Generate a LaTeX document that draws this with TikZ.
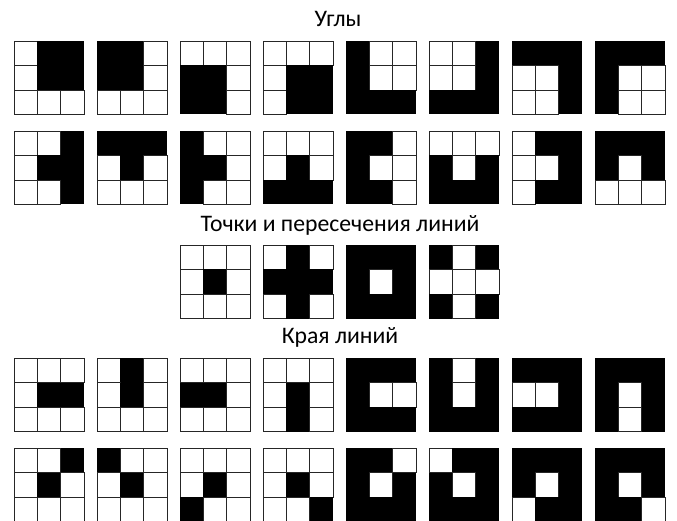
\documentclass[tikz,border=0pt]{standalone}
\usepackage{fontspec}
\setmainfont{Carlito}
\usepackage{tikz}
\usetikzlibrary{positioning}

% one 3x3 mask: #1 left, #2 top, #3 list of nine bits (row by row)
\newcommand{\mask}[3]{%
  \foreach \v [count=\i from 0] in #3 {
    \pgfmathtruncatemacro\cx{mod(\i,3)}
    \pgfmathtruncatemacro\cy{div(\i,3)}
    \ifnum\v=1
      \fill[cellon] ({#1+\cx*23.33},{#2+\cy*24.5}) rectangle +(23.33,24.5);
    \else
      \draw[celloff] ({#1+\cx*23.33},{#2+\cy*24.5}) rectangle +(23.33,24.5);
    \fi
  }%
}

\begin{document}
\begin{tikzpicture}[
        x=1pt, y=-1pt,
        cellon/.style={fill=black},
        celloff/.style={fill=white, draw=black!85, line width=0.9pt},
        heading/.style={font=\fontsize{23.7}{28}\selectfont, inner sep=0pt}
    ]
    \useasboundingbox (0,0) rectangle (677,521);

    \node[heading] (corners) at (338,19) {Углы};
    \node[heading] (dots) at (340,225) {Точки и пересечения линий};
    \node[heading] (ends) at (340,337) {Края линий};

    % corners
    \foreach \m [count=\k from 0] in {
        {0,1,1,0,1,1,0,0,0}, {1,1,0,1,1,0,0,0,0}, {0,0,0,1,1,0,1,1,0}, {0,0,0,0,1,1,0,1,1},
        {1,0,0,1,0,0,1,1,1}, {0,0,1,0,0,1,1,1,1}, {1,1,1,0,0,1,0,0,1}, {1,1,1,1,0,0,1,0,0}}
        {\mask{14+83*\k}{41}{\m}}
    \foreach \m [count=\k from 0] in {
        {0,0,1,0,1,1,0,0,1}, {1,1,1,0,1,0,0,0,0}, {1,0,0,1,1,0,1,0,0}, {0,0,0,0,1,0,1,1,1},
        {1,1,0,1,0,0,1,1,0}, {0,0,0,1,0,1,1,1,1}, {0,1,1,0,0,1,0,1,1}, {1,1,1,1,0,1,0,0,0}}
        {\mask{14+83*\k}{131}{\m}}

    % dots and crossings
    \foreach \m [count=\k from 2] in {
        {0,0,0,0,1,0,0,0,0}, {0,1,0,1,1,1,0,1,0}, {1,1,1,1,0,1,1,1,1}, {1,0,1,0,0,0,1,0,1}}
        {\mask{14+83*\k}{245}{\m}}

    % line ends
    \foreach \m [count=\k from 0] in {
        {0,0,0,0,1,1,0,0,0}, {0,1,0,0,1,0,0,0,0}, {0,0,0,1,1,0,0,0,0}, {0,0,0,0,1,0,0,1,0},
        {1,1,1,1,0,0,1,1,1}, {1,0,1,1,0,1,1,1,1}, {1,1,1,0,0,1,1,1,1}, {1,1,1,1,0,1,1,0,1}}
        {\mask{14+83*\k}{358}{\m}}
    \foreach \m [count=\k from 0] in {
        {0,0,1,0,1,0,0,0,0}, {1,0,0,0,1,0,0,0,0}, {0,0,0,0,1,0,1,0,0}, {0,0,0,0,1,0,0,0,1},
        {1,1,0,1,0,1,1,1,1}, {0,1,1,1,0,1,1,1,1}, {1,1,1,1,0,1,0,1,1}, {1,1,1,1,0,1,1,1,0}}
        {\mask{14+83*\k}{448}{\m}}
\end{tikzpicture}
\end{document}
